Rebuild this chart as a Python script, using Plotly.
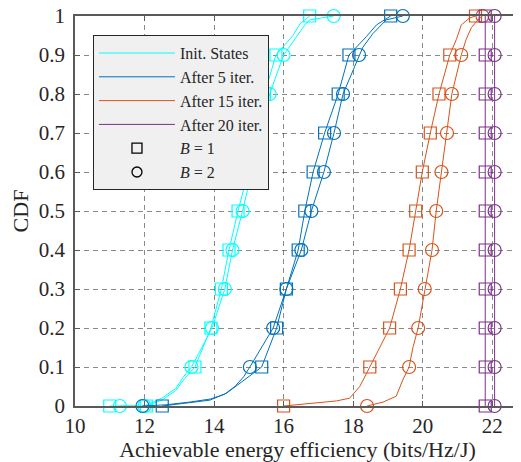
import plotly.graph_objects as go

# ---------------- data ----------------
series_names = ["Init. States", "After 5 iter.", "After 15 iter.", "After 20 iter."]
series_colors = ["#00FFFF", "#0072BD", "#D95319", "#7E2F8E"]
b_labels = ["<i>B</i> = 1", "<i>B</i> = 2"]

# Init. States
init_b1_x = [11.0, 12.05, 12.5, 12.9, 13.15, 13.45, 13.68, 13.91, 14.21, 14.43, 14.69, 14.98, 15.20, 15.45, 15.78, 16.08, 16.27, 16.47, 16.75]
init_b1_y = [0.0, 0.0, 0.015, 0.04, 0.07, 0.1, 0.15, 0.2, 0.3, 0.4, 0.5, 0.6, 0.7, 0.8, 0.9, 0.93, 0.95, 0.98, 1.0]
init_b2_x = [11.29, 12.0, 12.5, 12.9, 13.12, 13.35, 13.65, 13.94, 14.31, 14.53, 14.82, 15.08, 15.32, 15.60, 16.0, 16.37, 16.61, 16.75, 17.44]
init_b2_y = [0.0, 0.0, 0.02, 0.045, 0.075, 0.1, 0.15, 0.2, 0.3, 0.4, 0.5, 0.6, 0.7, 0.8, 0.9, 0.947, 0.977, 0.99, 1.0]

# After 5 iter.
it5_b1_x = [12.51, 13.3, 13.88, 14.36, 14.74, 15.1, 15.37, 15.80, 16.08, 16.42, 16.61, 16.85, 17.18, 17.57, 17.88, 18.38, 18.67, 19.08]
it5_b1_y = [0.0, 0.008, 0.015, 0.033, 0.058, 0.08, 0.1, 0.2, 0.3, 0.4, 0.5, 0.6, 0.7, 0.8, 0.9, 0.947, 0.977, 1.0]
it5_b2_x = [11.94, 12.6, 13.3, 13.9, 14.3, 14.6, 14.85, 15.03, 15.70, 16.08, 16.51, 16.80, 17.16, 17.45, 17.71, 18.17, 18.28, 18.57, 18.95, 19.43]
it5_b2_y = [0.0, 0.003, 0.01, 0.018, 0.03, 0.05, 0.075, 0.1, 0.2, 0.3, 0.4, 0.5, 0.6, 0.7, 0.8, 0.9, 0.92, 0.955, 0.99, 1.0]

# After 15 iter.
it15_b1_x = [16.0, 16.94, 17.52, 17.9, 18.19, 18.48, 18.76, 19.05, 19.36, 19.61, 19.80, 19.99, 20.22, 20.47, 20.78, 20.97, 21.11, 21.35, 21.52]
it15_b1_y = [0.0, 0.007, 0.013, 0.02, 0.05, 0.1, 0.15, 0.2, 0.3, 0.4, 0.5, 0.6, 0.7, 0.8, 0.9, 0.94, 0.977, 0.995, 1.0]
it15_b2_x = [18.4, 18.86, 19.24, 19.43, 19.61, 19.72, 19.87, 20.06, 20.27, 20.39, 20.54, 20.70, 20.84, 21.11, 21.25, 21.40, 21.64, 21.72]
it15_b2_y = [0.0, 0.01, 0.025, 0.067, 0.1, 0.15, 0.2, 0.3, 0.4, 0.5, 0.6, 0.7, 0.8, 0.9, 0.94, 0.97, 0.995, 1.0]

# After 20 iter.
it20_b1_x = [21.80, 21.80, 21.80, 21.80, 21.80, 21.80, 21.80, 21.80, 21.80, 21.80, 21.80]
it20_b1_y = [0.0, 0.1, 0.2, 0.3, 0.4, 0.5, 0.6, 0.7, 0.8, 0.9, 1.0]
it20_b2_x = [22.07, 22.07, 22.07, 22.07, 22.07, 22.07, 22.07, 22.07, 22.07, 22.07, 22.07]
it20_b2_y = [0.0, 0.1, 0.2, 0.3, 0.4, 0.5, 0.6, 0.7, 0.8, 0.9, 1.0]

x_ticks = [10, 12, 14, 16, 18, 20, 22]
y_ticks = [0, 0.1, 0.2, 0.3, 0.4, 0.5, 0.6, 0.7, 0.8, 0.9, 1]
y_ticktext = ["0", "0.1", "0.2", "0.3", "0.4", "0.5", "0.6", "0.7", "0.8", "0.9", "1"]

curves = [
    (init_b1_x, init_b1_y, init_b2_x, init_b2_y),
    (it5_b1_x, it5_b1_y, it5_b2_x, it5_b2_y),
    (it15_b1_x, it15_b1_y, it15_b2_x, it15_b2_y),
    (it20_b1_x, it20_b1_y, it20_b2_x, it20_b2_y),
]

FONT = "Liberation Serif, Times New Roman, serif"

def deciles(xs, ys):
    mx, my = [], []
    for x, y in zip(xs, ys):
        if abs(y * 10 - round(y * 10)) < 1e-9:
            mx.append(x)
            my.append(y)
    return mx, my

fig = go.Figure()

for name, color, (x1, y1, x2, y2) in zip(series_names, series_colors, curves):
    fig.add_trace(go.Scatter(x=x1, y=y1, mode="lines", name=name,
                             line=dict(color=color, width=1), cliponaxis=False,
                             legendgroup=name, hoverinfo="skip"))
    fig.add_trace(go.Scatter(x=x2, y=y2, mode="lines", showlegend=False,
                             line=dict(color=color, width=1), cliponaxis=False,
                             legendgroup=name, hoverinfo="skip"))
    mx, my = deciles(x1, y1)
    fig.add_trace(go.Scatter(x=mx, y=my, mode="markers", showlegend=False, cliponaxis=False,
                             marker=dict(symbol="square-open", size=12, color=color,
                                         line=dict(width=1.2, color=color)),
                             hoverinfo="skip"))
    mx, my = deciles(x2, y2)
    fig.add_trace(go.Scatter(x=mx, y=my, mode="markers", showlegend=False, cliponaxis=False,
                             marker=dict(symbol="circle-open", size=13, color=color,
                                         line=dict(width=1.2, color=color)),
                             hoverinfo="skip"))

for lab, sym in zip(b_labels, ["square-open", "circle-open"]):
    fig.add_trace(go.Scatter(x=[None], y=[None], mode="markers", name=lab,
                             marker=dict(symbol=sym, size=10, color="black",
                                         line=dict(width=1.3, color="black"))))

axis_common = dict(
    showline=True, linecolor="#5a5a5a", linewidth=1.5, mirror="ticks",
    ticks="inside", ticklen=5, tickcolor="#5a5a5a", tickwidth=1,
    showgrid=True, gridcolor="rgba(60,60,60,0.6)", gridwidth=1, griddash="5px,4px",
    zeroline=False, tickfont=dict(family=FONT, size=21, color="#262626"),
    ticklabeloverflow="allow",
)

fig.update_xaxes(range=[10, 22.8], tickvals=x_ticks,
                 title=dict(text="Achievable energy efficiency (bits/Hz/J)",
                            font=dict(family=FONT, size=22, color="#262626"), standoff=4),
                 **axis_common)
fig.update_yaxes(range=[0, 1], tickvals=y_ticks, ticktext=y_ticktext, ticklabelstandoff=4,
                 title=dict(text="CDF", font=dict(family=FONT, size=22, color="#262626"), standoff=8),
                 **axis_common)

# page body has an 8px default margin, so the figure is offset by 8px
fig.update_layout(
    width=513, height=454,
    margin=dict(l=67, r=1, t=8, b=56, autoexpand=False),
    plot_bgcolor="white", paper_bgcolor="white",
    font=dict(family=FONT, color="#262626"),
    showlegend=True,
    legend=dict(x=0.0404, y=0.951, xanchor="left", yanchor="top",
                bgcolor="#f0f0f0", bordercolor="#262626", borderwidth=1,
                font=dict(family=FONT, size=16, color="#262626"),
                itemwidth=76, tracegroupgap=0, traceorder="normal"),
)

fig.write_html("out.html")
